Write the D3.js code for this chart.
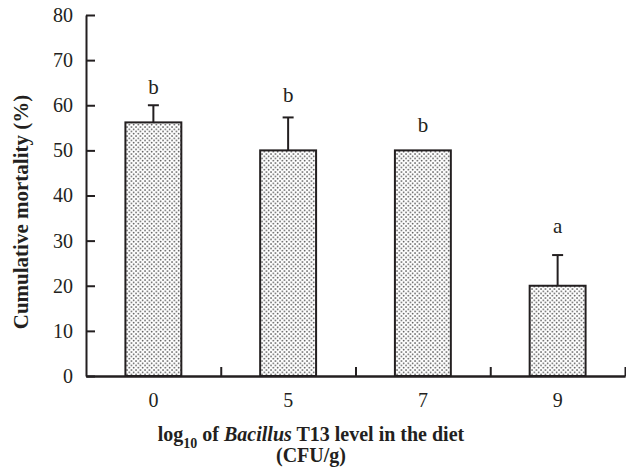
<!DOCTYPE html>
<html>
<head>
<meta charset="utf-8">
<script src="https://cdn.jsdelivr.net/npm/d3@7"></script>
<style>
  body { margin: 0; background: #fff; }
  text { font-family: "Liberation Serif", "Times New Roman", serif; fill: #231f20; }
</style>
</head>
<body>
<script>
// data
var levels = ["0", "5", "7", "9"];
var mortality = [56.2, 50, 50, 20];
var errorTop = [60, 57.3, 50, 26.8];
var groupLetters = ["b", "b", "b", "a"];
var letterPos = [62.4, 60.8, 54.1, 31.7];
var yTicks = [0, 10, 20, 30, 40, 50, 60, 70, 80];

var width = 626, height = 475;
var plotLeft = 86, plotRight = 625, plotTop = 15, plotBottom = 376;

var svg = d3.select("body")
  .append("svg")
  .attr("width", width)
  .attr("height", height);

// dotted fill
var pat = svg.append("defs").append("pattern")
  .attr("id", "dots")
  .attr("patternUnits", "userSpaceOnUse")
  .attr("width", 4.5)
  .attr("height", 4.5);
pat.append("rect").attr("width", 4.5).attr("height", 4.5).attr("fill", "#fff");
pat.append("circle").attr("cx", 1).attr("cy", 1).attr("r", 0.8).attr("fill", "#333");
pat.append("circle").attr("cx", 3.25).attr("cy", 3.25).attr("r", 0.8).attr("fill", "#333");

var x = d3.scaleBand()
  .domain(levels)
  .range([plotLeft, plotRight])
  .paddingInner(0.585)
  .paddingOuter(0.2925);

var y = d3.scaleLinear()
  .domain([0, 80])
  .range([plotBottom, plotTop]);

// bars
svg.selectAll("rect.bar")
  .data(levels)
  .enter().append("rect")
  .attr("class", "bar")
  .attr("x", function(d) { return x(d); })
  .attr("width", x.bandwidth())
  .attr("y", function(d, i) { return y(mortality[i]); })
  .attr("height", function(d, i) { return y(0) - y(mortality[i]); })
  .attr("fill", "url(#dots)")
  .attr("stroke", "#231f20")
  .attr("stroke-width", 2);

// error bars (upper only)
var eb = svg.selectAll("g.err")
  .data(levels)
  .enter().append("g")
  .attr("class", "err")
  .attr("stroke", "#231f20")
  .attr("stroke-width", 2);
eb.append("line")
  .attr("x1", function(d) { return x(d) + x.bandwidth() / 2; })
  .attr("x2", function(d) { return x(d) + x.bandwidth() / 2; })
  .attr("y1", function(d, i) { return y(mortality[i]); })
  .attr("y2", function(d, i) { return y(errorTop[i]); });
eb.append("line")
  .attr("x1", function(d) { return x(d) + x.bandwidth() / 2 - 5.5; })
  .attr("x2", function(d) { return x(d) + x.bandwidth() / 2 + 5.5; })
  .attr("y1", function(d, i) { return y(errorTop[i]); })
  .attr("y2", function(d, i) { return y(errorTop[i]); })
  .attr("display", function(d, i) { return errorTop[i] > mortality[i] ? null : "none"; });

// significance letters
svg.selectAll("text.letter")
  .data(levels)
  .enter().append("text")
  .attr("class", "letter")
  .attr("x", function(d) { return x(d) + x.bandwidth() / 2; })
  .attr("y", function(d, i) { return y(letterPos[i]); })
  .attr("text-anchor", "middle")
  .style("font-size", "21px")
  .text(function(d, i) { return groupLetters[i]; });

// y axis
var yAxis = svg.append("g")
  .attr("transform", "translate(" + plotLeft + ",0)")
  .call(d3.axisLeft(y).tickValues(yTicks).tickSize(-9).tickSizeOuter(0).tickPadding(13));
yAxis.selectAll("text").style("font-size", "20px");

// x axis labels
var xAxis = svg.append("g")
  .attr("transform", "translate(0," + plotBottom + ")")
  .call(d3.axisBottom(x).tickSize(0).tickSizeOuter(0).tickPadding(17));
xAxis.selectAll("text").style("font-size", "20px");

// x axis dividers between groups
var xDiv = d3.scaleLinear().domain([0, levels.length]).range([plotLeft, plotRight]);
svg.append("g")
  .attr("transform", "translate(0," + plotBottom + ")")
  .call(d3.axisBottom(xDiv).tickValues([1, 2, 3, 4]).tickSize(-9).tickSizeOuter(0).tickFormat(""));

svg.selectAll(".domain, .tick line")
  .attr("stroke", "#231f20")
  .attr("stroke-width", 2);

// axis titles
var xt = svg.append("text")
  .attr("x", 311)
  .attr("y", 441)
  .attr("text-anchor", "middle")
  .style("font-size", "20px")
  .style("font-weight", "bold");
xt.append("tspan").text("log");
xt.append("tspan").attr("dy", 7).style("font-size", "14px").text("10");
xt.append("tspan").attr("dy", -7).text(" of ");
xt.append("tspan").style("font-style", "italic").text("Bacillus");
xt.append("tspan").text(" T13 level in the diet");

svg.append("text")
  .attr("x", 311)
  .attr("y", 462)
  .attr("text-anchor", "middle")
  .style("font-size", "20px")
  .style("font-weight", "bold")
  .text("(CFU/g)");

svg.append("text")
  .attr("transform", "translate(28,212) rotate(-90)")
  .attr("text-anchor", "middle")
  .style("font-size", "21px")
  .style("font-weight", "bold")
  .text("Cumulative mortality (%)");
</script>
</body>
</html>
